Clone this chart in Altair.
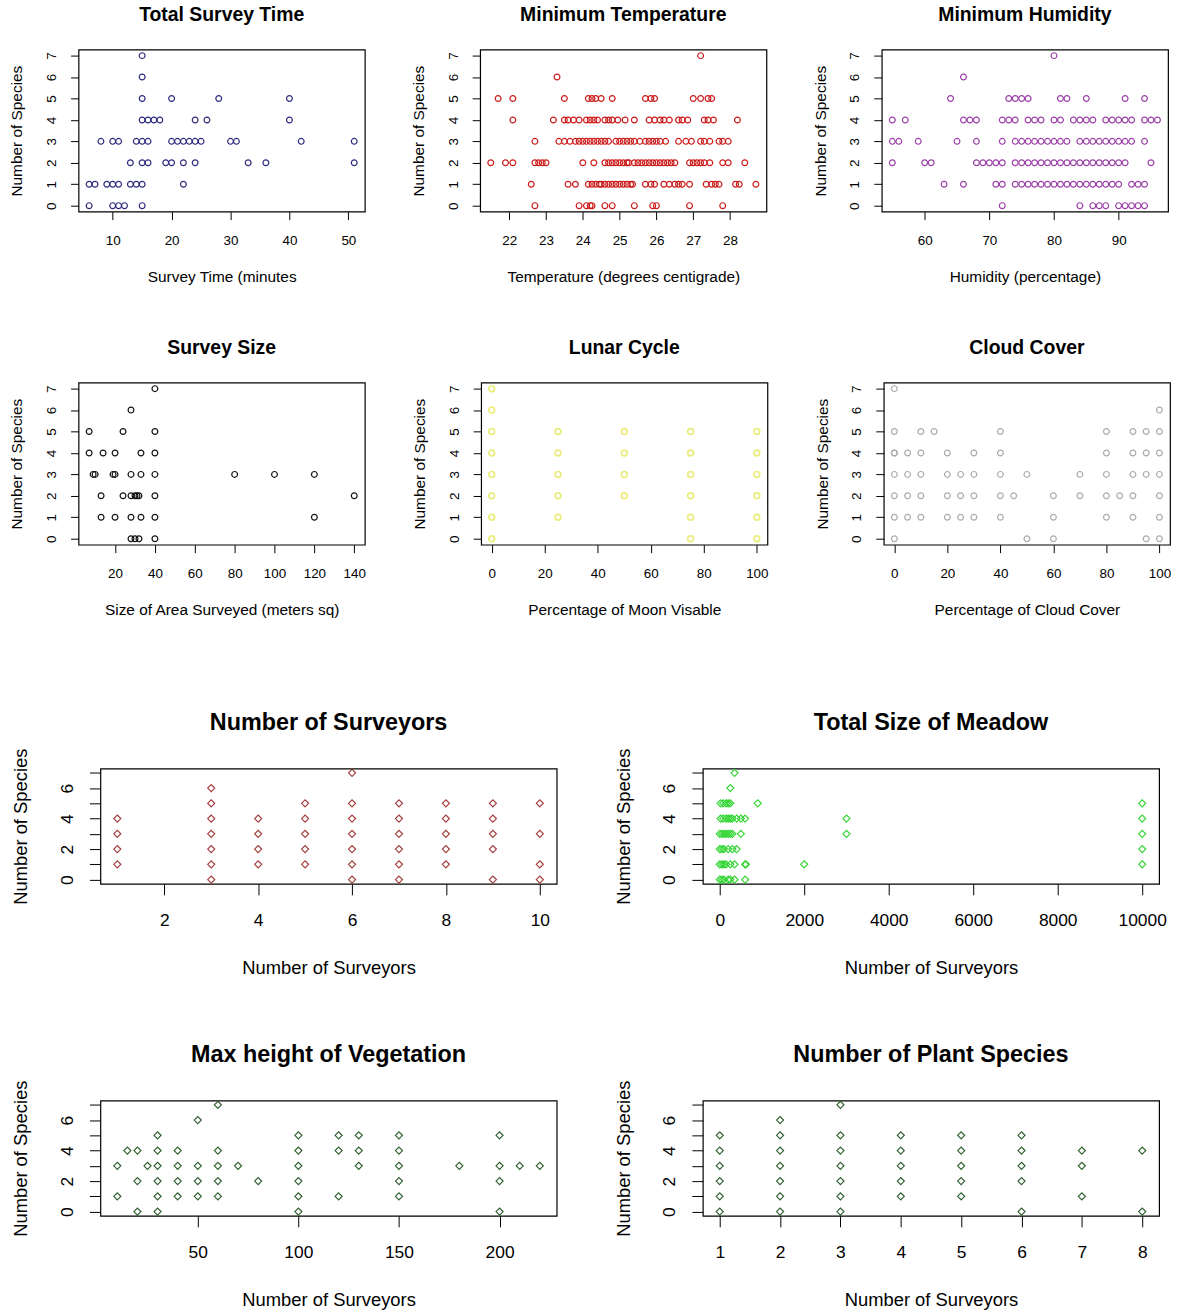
import altair as alt
import pandas as pd

FONT = "Liberation Sans"
SPECIES_TICKS = list(range(8))

# Each list pairs a species count with the x values recorded at that count.
SURVEY_TIME = [
    (7, [15]),
    (6, [15]),
    (5, [15, 20, 28, 40]),
    (4, [15, 16, 17, 18, 24, 26, 40]),
    (3, [8, 10, 11, 14, 15, 16, 20, 21, 22, 23, 24, 25, 30, 31, 42, 51]),
    (2, [13, 15, 16, 19, 20, 22, 24, 33, 36, 51]),
    (1, [6, 7, 9, 10, 11, 13, 14, 15, 22]),
    (0, [6, 10, 11, 12, 15]),
]

MIN_TEMPERATURE = [
    (7, [27.2]),
    (6, [23.3]),
    (5, [21.7, 22.1, 23.5, 24.15, 24.25, 24.35, 24.5, 24.8, 25.7, 25.85, 25.95,
         27.0, 27.2, 27.4, 27.5]),
    (4, [22.1, 23.2, 23.5, 23.6, 23.75, 23.9, 24.1, 24.2, 24.3, 24.4, 24.6, 24.7,
         24.8, 24.95, 25.15, 25.4, 25.8, 25.95, 26.1, 26.2, 26.35, 26.6, 26.7,
         26.85, 27.3, 27.4, 27.55, 28.2]),
    (3, [22.7, 23.35, 23.5, 23.65, 23.8, 23.9, 24.0, 24.1, 24.2, 24.3, 24.4, 24.5,
         24.6, 24.7, 24.9, 25.0, 25.1, 25.2, 25.3, 25.4, 25.55, 25.7, 25.8, 25.9,
         26.0, 26.1, 26.25, 26.6, 26.8, 26.95, 27.2, 27.3, 27.45, 27.7, 27.8, 27.95]),
    (2, [21.5, 21.9, 22.1, 22.7, 22.8, 22.9, 23.0, 24.0, 24.3, 24.6, 24.7, 24.8,
         24.9, 25.0, 25.1, 25.2, 25.25, 25.4, 25.5, 25.6, 25.7, 25.8, 25.9, 26.0,
         26.1, 26.2, 26.3, 26.4, 26.5, 26.9, 27.0, 27.1, 27.2, 27.3, 27.45, 27.8,
         27.95, 28.4]),
    (1, [22.6, 23.6, 23.8, 24.15, 24.25, 24.35, 24.45, 24.5, 24.6, 24.7, 24.8,
         24.9, 25.0, 25.1, 25.2, 25.3, 25.35, 25.7, 25.85, 25.95, 26.2, 26.35,
         26.5, 26.6, 26.7, 26.9, 27.35, 27.5, 27.6, 27.7, 28.15, 28.25, 28.7]),
    (0, [22.7, 23.9, 24.1, 24.2, 24.25, 24.6, 24.8, 25.4, 25.9, 26.0, 26.9, 27.8]),
]

MIN_HUMIDITY = [
    (7, [80]),
    (6, [66]),
    (5, [64, 73, 74, 75, 76, 81, 82, 85, 91, 94]),
    (4, [55, 57, 66, 67, 68, 72, 73, 74, 76, 77, 78, 80, 81, 83, 84, 85, 86, 88,
         89, 90, 91, 92, 94, 95, 96]),
    (3, [55, 56, 59, 65, 68, 72, 74, 75, 76, 77, 78, 79, 80, 81, 82, 84, 85, 86,
         87, 88, 89, 90, 91, 92, 94]),
    (2, [55, 60, 61, 68, 69, 70, 71, 72, 74, 75, 76, 77, 78, 79, 80, 81, 82, 83,
         84, 85, 86, 87, 88, 89, 90, 91, 95]),
    (1, [63, 66, 71, 72, 74, 75, 76, 77, 78, 79, 80, 81, 82, 83, 84, 85, 86, 87,
         88, 89, 90, 92, 93, 94]),
    (0, [72, 84, 86, 87, 88, 90, 91, 92, 93, 94]),
]

SURVEY_SIZE = [
    (7, [40]),
    (6, [28]),
    (5, [7, 24, 40]),
    (4, [7, 14, 20, 33, 40]),
    (3, [9, 10, 19, 20, 28, 33, 40, 80, 100, 120]),
    (2, [13, 24, 28, 30, 31, 32, 40, 140]),
    (1, [13, 20, 28, 33, 40, 120]),
    (0, [28, 30, 32, 40]),
]

MOON_VISIBLE = [
    (7, [0]),
    (6, [0]),
    (5, [0, 25, 50, 75, 100]),
    (4, [0, 25, 50, 75, 100]),
    (3, [0, 25, 50, 75, 100]),
    (2, [0, 25, 50, 75, 100]),
    (1, [0, 25, 75, 100]),
    (0, [0, 75, 100]),
]

CLOUD_COVER = [
    (7, [0]),
    (6, [100]),
    (5, [0, 10, 15, 40, 80, 90, 95, 100]),
    (4, [0, 0, 5, 10, 20, 30, 40, 80, 90, 95, 100]),
    (3, [0, 5, 10, 20, 25, 30, 40, 50, 70, 80, 90, 95, 100]),
    (2, [0, 5, 10, 20, 25, 30, 40, 45, 60, 70, 80, 85, 90, 100]),
    (1, [0, 5, 10, 20, 25, 30, 40, 60, 80, 90, 100]),
    (0, [0, 50, 60, 95, 100]),
]

SURVEYORS = [
    (7, [6]),
    (6, [3]),
    (5, [3, 5, 6, 7, 8, 9, 10]),
    (4, [1, 3, 4, 5, 6, 7, 8, 9]),
    (3, [1, 3, 4, 5, 6, 7, 8, 9, 10]),
    (2, [1, 3, 4, 5, 6, 7, 8, 9]),
    (1, [1, 3, 4, 5, 6, 7, 8, 10]),
    (0, [3, 6, 7, 9, 10]),
]

MEADOW_SIZE = [
    (7, [350]),
    (6, [250]),
    (5, [20, 80, 150, 200, 250, 900, 10000]),
    (4, [20, 80, 150, 200, 250, 300, 400, 500, 600, 3000, 10000]),
    (3, [0, 50, 100, 150, 200, 250, 300, 500, 3000, 10000]),
    (2, [0, 50, 100, 200, 300, 400, 10000]),
    (1, [0, 50, 100, 150, 250, 350, 600, 620, 2000, 10000]),
    (0, [0, 50, 100, 200, 250, 350, 600]),
]

VEGETATION_HEIGHT = [
    (7, [60]),
    (6, [50]),
    (5, [30, 100, 120, 130, 150, 200]),
    (4, [15, 20, 30, 40, 60, 100, 120, 130, 150]),
    (3, [10, 25, 30, 40, 50, 60, 70, 100, 130, 150, 180, 200, 210, 220]),
    (2, [20, 30, 40, 50, 60, 80, 100, 150, 200]),
    (1, [10, 30, 40, 50, 60, 100, 120, 150]),
    (0, [20, 30, 100, 200]),
]

PLANT_SPECIES = [
    (7, [3]),
    (6, [2]),
    (5, [1, 2, 3, 4, 5, 6]),
    (4, [1, 2, 3, 4, 5, 6, 7, 8]),
    (3, [1, 2, 3, 4, 5, 6, 7]),
    (2, [1, 2, 3, 4, 5, 6]),
    (1, [1, 2, 3, 4, 5, 7]),
    (0, [1, 2, 3, 6, 8]),
]

# Styling for the two panel sizes (small 3-across grid, wide 2-across grid)
SMALL = dict(w=288, h=163, tick=8, label=13.5, atitle=15.5, title=19.5,
             title_off=15, ylab=27, ytitle=62, xlab=29, xtitle=65,
             shape="circle", size=34, even_only=False)
WIDE = dict(w=459, h=116, tick=11, label=17.5, atitle=18.5, title=23.5,
            title_off=2, ylab=33, ytitle=80, xlab=37, xtitle=84,
            shape="diamond", size=50, even_only=True)


def panel(rows, title, xtitle, xticks, color, s, stroke_width=1.2):
    df = pd.DataFrame([{"x": x, "y": y} for y, xs in rows for x in xs])
    lo, hi = float(df["x"].min()), float(df["x"].max())
    ext = 0.04 * (hi - lo)
    common = dict(
        grid=False, domain=False, tickSize=s["tick"], tickColor="black",
        tickWidth=1, labelFont=FONT, labelFontSize=s["label"],
        labelColor="black", labelFlush=False, labelOverlap=False,
        titleFont=FONT, titleFontSize=s["atitle"], titleFontWeight="normal",
        titleColor="black", titleAlign="center", titleBaseline="middle",
        format="d",
    )
    x_axis = alt.Axis(
        values=xticks, title=xtitle, labelAlign="center",
        labelBaseline="middle", labelPadding=s["xlab"] - s["tick"],
        titleX=s["w"] / 2, titleY=s["xtitle"], **common,
    )
    y_extra = {}
    if s["even_only"]:
        y_extra["labelExpr"] = "datum.value % 2 == 0 ? datum.label : ''"
    y_axis = alt.Axis(
        values=SPECIES_TICKS, title="Number of Species", labelAngle=270,
        labelAlign="center", labelBaseline="middle",
        labelPadding=s["ylab"] - s["tick"], titleAngle=270,
        titleX=-s["ytitle"], titleY=s["h"] / 2, **y_extra, **common,
    )
    return (
        alt.Chart(df)
        .mark_point(shape=s["shape"], filled=False, size=s["size"],
                    strokeWidth=stroke_width, opacity=1, color=color,
                    clip=False)
        .encode(
            x=alt.X("x:Q", axis=x_axis,
                    scale=alt.Scale(domain=[lo - ext, hi + ext], nice=False,
                                    zero=False)),
            y=alt.Y("y:Q", axis=y_axis,
                    scale=alt.Scale(domain=[-0.28, 7.28], nice=False,
                                    zero=False)),
        )
        .properties(
            width=s["w"], height=s["h"],
            title=alt.TitleParams(
                title, font=FONT, fontSize=s["title"], fontWeight="bold",
                color="black", anchor="middle", frame="group",
                baseline="middle", offset=s["title_off"]),
        )
    )


def spacer():
    return (
        alt.Chart(pd.DataFrame({"v": [0]}))
        .mark_point(opacity=0)
        .encode(x=alt.value(0), y=alt.value(0))
        .properties(width=1, height=1, view=alt.ViewBackground(stroke=None))
    )


p1 = panel(SURVEY_TIME, "Total Survey Time", "Survey Time (minutes",
           [10, 20, 30, 40, 50], "#2e2a7c", SMALL)
p2 = panel(MIN_TEMPERATURE, "Minimum Temperature",
           "Temperature (degrees centigrade)", list(range(22, 29)), "#cc1a1a",
           SMALL)
p3 = panel(MIN_HUMIDITY, "Minimum Humidity", "Humidity (percentage)",
           [60, 70, 80, 90], "#9a3fa6", SMALL)
p4 = panel(SURVEY_SIZE, "Survey Size", "Size of Area Surveyed (meters sq)",
           list(range(20, 141, 20)), "#111111", SMALL)
p5 = panel(MOON_VISIBLE, "Lunar Cycle", "Percentage of Moon Visable",
           list(range(0, 101, 20)), "#ecec7e", SMALL, stroke_width=1.7)
p6 = panel(CLOUD_COVER, "Cloud Cover", "Percentage of Cloud Cover",
           list(range(0, 101, 20)), "#aaaaaa", SMALL)
p7 = panel(SURVEYORS, "Number of Surveyors", "Number of Surveyors",
           [2, 4, 6, 8, 10], "#a33c3c", WIDE)
p8 = panel(MEADOW_SIZE, "Total Size of Meadow", "Number of Surveyors",
           list(range(0, 10001, 2000)), "#33d633", WIDE)
p9 = panel(VEGETATION_HEIGHT, "Max height of Vegetation", "Number of Surveyors",
           [50, 100, 150, 200], "#2f5f2f", WIDE)
p10 = panel(PLANT_SPECIES, "Number of Plant Species", "Number of Surveyors",
            list(range(1, 9)), "#2f5f2f", WIDE)

top = alt.vconcat(
    alt.hconcat(p1, p2, p3, spacing=45),
    alt.hconcat(p4, p5, p6, spacing=45),
    spacing=51,
)
bottom = alt.vconcat(
    alt.hconcat(p7, p8, spacing=56),
    alt.hconcat(p9, p10, spacing=56),
    spacing=64,
)

chart = (
    alt.vconcat(
        alt.hconcat(spacer(), top, spacing=1),
        alt.hconcat(spacer(), bottom, spacing=3),
        spacing=91.2,
    )
    .properties(padding={"left": 2, "top": 0, "right": 5, "bottom": 5},
                background="white")
    .configure_view(stroke="black", strokeWidth=1.2)
)

chart.save("out.html", embed_options={"renderer": "svg", "actions": False})
